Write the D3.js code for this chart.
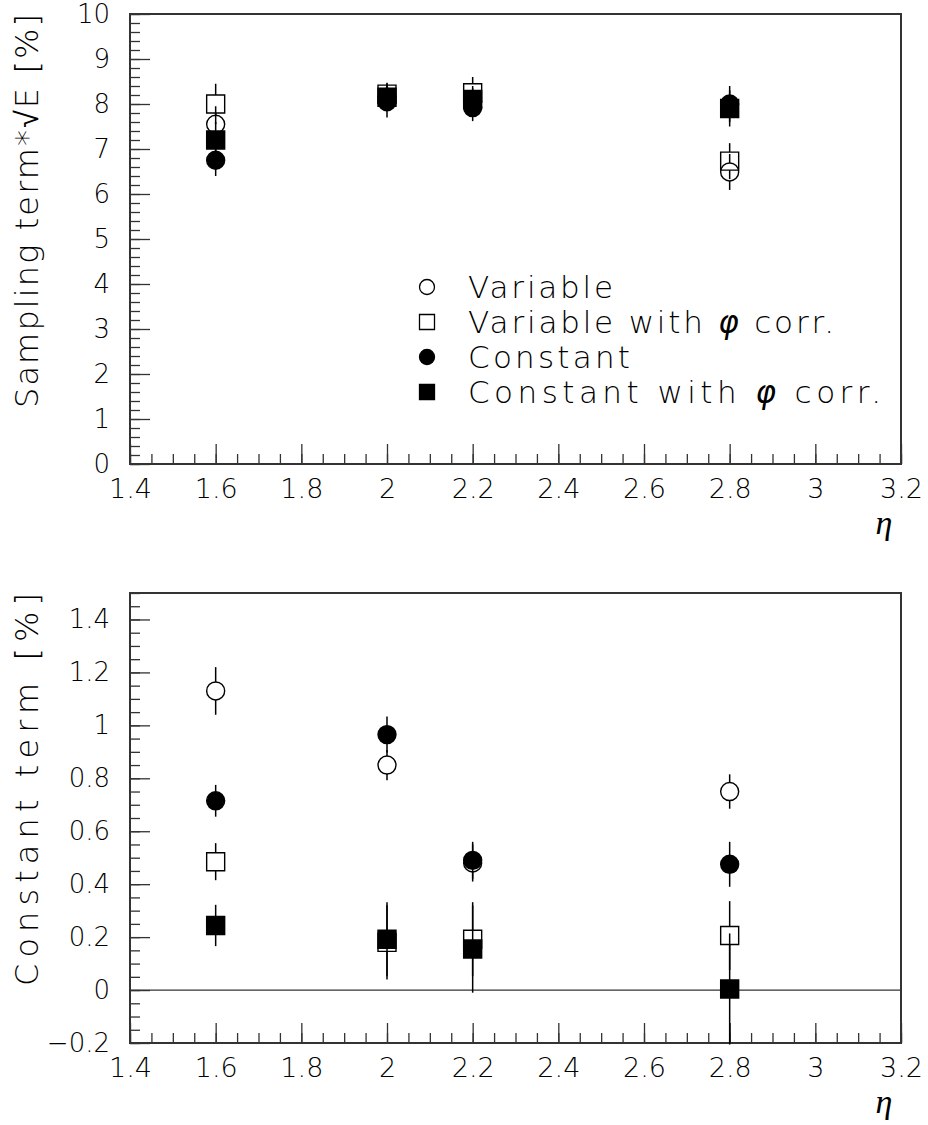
<!DOCTYPE html>
<html>
<head>
<meta charset="utf-8">
<script src="https://cdn.jsdelivr.net/npm/d3@7"></script>
<style>
  body { margin: 0; background: #fff; }
  text { font-family: "DejaVu Sans", sans-serif; font-weight: 200; fill: #000; }
</style>
</head>
<body>
<div id="chart"></div>
<script>
// eta bins
const etaValues = [1.6, 2.0, 2.2, 2.8];

// Sampling term * sqrt(E) [%]
const samplingVariable = [7.55, 8.15, 8.05, 6.49];
const samplingVariableErr = [0.40, 0.30, 0.30, 0.40];
const samplingVariablePhi = [8.00, 8.22, 8.25, 6.73];
const samplingVariablePhiErr = [0.45, 0.25, 0.35, 0.40];
const samplingConstant = [6.75, 8.05, 7.92, 8.00];
const samplingConstantErr = [0.35, 0.35, 0.30, 0.40];
const samplingConstantPhi = [7.20, 8.15, 8.10, 7.90];
const samplingConstantPhiErr = [0.40, 0.30, 0.30, 0.40];

// Constant term [%]
const constVariable = [1.13, 0.85, 0.48, 0.75];
const constVariableErr = [0.09, 0.057, 0.07, 0.065];
const constVariablePhi = [0.485, 0.18, 0.192, 0.206];
const constVariablePhiErr = [0.07, 0.14, 0.14, 0.13];
const constConstant = [0.715, 0.965, 0.49, 0.475];
const constConstantErr = [0.06, 0.068, 0.07, 0.085];
const constConstantPhi = [0.244, 0.192, 0.155, 0.004];
const constConstantPhiErr = [0.078, 0.14, 0.165, 0.21];

// axes
const xTicks = [1.4, 1.6, 1.8, 2.0, 2.2, 2.4, 2.6, 2.8, 3.0, 3.2];
const topYTicks = [0, 1, 2, 3, 4, 5, 6, 7, 8, 9, 10];
const bottomYTicks = [-0.2, 0, 0.2, 0.4, 0.6, 0.8, 1.0, 1.2, 1.4];

const seriesNames = ["Variable", "Variable with φ corr.", "Constant", "Constant with φ corr."];
const seriesSymbols = ["circle", "square", "circle", "square"];
const seriesFilled = [false, false, true, true];

const W = 928, H = 1125;
const left = 130, right = 901;

const svg = d3.select('#chart')
    .append('svg')
    .attr('width', W)
    .attr('height', H);

const x = d3.scaleLinear().domain([1.4, 3.2]).range([left, right]);

function fmt(d) {
    if (Math.abs(d) < 1e-9) return '0';
    return d3.format('~g')(+d.toFixed(2)).replace('-', '−');
}

function minorTicks(lo, hi, step) {
    const out = [];
    const n = Math.round((hi - lo) / step);
    for (let i = 0; i <= n; i++) out.push(lo + i * step);
    return out;
}

function drawPanel(cfg) {
    const y = d3.scaleLinear().domain(cfg.yDomain).range([cfg.bottom, cfg.top]);
    const g = svg.append('g');

    // minor x ticks
    g.append('g')
        .attr('transform', `translate(0,${cfg.bottom})`)
        .call(d3.axisBottom(x).tickValues(minorTicks(1.4, 3.2, 0.05)).tickSize(-10).tickFormat(''))
        .call(a => a.select('.domain').remove())
        .call(a => a.selectAll('line').attr('stroke', '#333').attr('stroke-width', 1.3));

    // major x ticks
    g.append('g')
        .attr('transform', `translate(0,${cfg.bottom})`)
        .call(d3.axisBottom(x).tickValues(xTicks).tickSize(-20).tickPadding(15).tickFormat(fmt))
        .call(a => a.select('.domain').remove())
        .call(a => a.selectAll('line').attr('stroke', '#333').attr('stroke-width', 1.3))
        .call(a => a.selectAll('text')
            .style('font-size', '27px')
            .style('font-family', '"DejaVu Sans", sans-serif')
            .style('font-weight', 200)
            .attr('fill', '#000'));

    // minor y ticks
    g.append('g')
        .attr('transform', `translate(${left},0)`)
        .call(d3.axisLeft(y).tickValues(minorTicks(cfg.yDomain[0], cfg.yDomain[1], cfg.yMinor)).tickSize(-10).tickFormat(''))
        .call(a => a.select('.domain').remove())
        .call(a => a.selectAll('line').attr('stroke', '#333').attr('stroke-width', 1.3));

    // major y ticks
    g.append('g')
        .attr('transform', `translate(${left},0)`)
        .call(d3.axisLeft(y).tickValues(cfg.yTicks).tickSize(-20).tickPadding(20).tickFormat(fmt))
        .call(a => a.select('.domain').remove())
        .call(a => a.selectAll('line').attr('stroke', '#333').attr('stroke-width', 1.3))
        .call(a => a.selectAll('text')
            .style('font-size', '26px')
            .style('font-family', '"DejaVu Sans", sans-serif')
            .style('font-weight', 200)
            .attr('fill', '#000'));

    // frame
    g.append('rect')
        .attr('x', left).attr('y', cfg.top)
        .attr('width', right - left).attr('height', cfg.bottom - cfg.top)
        .attr('fill', 'none').attr('stroke', '#333').attr('stroke-width', 2);

    // zero line
    if (cfg.zeroLine) {
        g.append('line')
            .attr('x1', left).attr('x2', right)
            .attr('y1', y(0)).attr('y2', y(0))
            .attr('stroke', '#333').attr('stroke-width', 1.3);
    }

    // series: error bars stop at marker edges, like ROOT
    const r = 9;
    cfg.series.forEach((s, si) => {
        const pts = etaValues.map((e, i) => ({ x: x(e), y: y(s.v[i]), hi: y(s.v[i] + s.e[i]), lo: y(s.v[i] - s.e[i]) }));
        const sg = g.append('g');
        pts.forEach(p => {
            if (p.hi < p.y - r) {
                sg.append('line').attr('x1', p.x).attr('x2', p.x).attr('y1', p.hi).attr('y2', p.y - r)
                    .attr('stroke', '#000').attr('stroke-width', 1.5);
            }
            if (p.lo > p.y + r) {
                sg.append('line').attr('x1', p.x).attr('x2', p.x).attr('y1', p.y + r).attr('y2', p.lo)
                    .attr('stroke', '#000').attr('stroke-width', 1.5);
            }
        });
        const sym = d3.symbol()
            .type(seriesSymbols[si] === 'circle' ? d3.symbolCircle : d3.symbolSquare)
            .size(seriesSymbols[si] === 'circle' ? Math.PI * r * r : (2 * r) * (2 * r));
        sg.selectAll('path.m')
            .data(pts)
            .join('path')
            .attr('class', 'm')
            .attr('d', sym)
            .attr('transform', p => `translate(${p.x},${p.y})`)
            .attr('fill', seriesFilled[si] ? '#000' : 'none')
            .attr('stroke', '#000')
            .attr('stroke-width', 1.4);
    });

    // y title
    svg.append('text')
        .attr('transform', `translate(38,${cfg.top}) rotate(-90)`)
        .attr('text-anchor', 'end')
        .attr('textLength', cfg.titleLength)
        .attr('lengthAdjust', 'spacing')
        .style('font-size', '32px')
        .text(cfg.title);

    // eta label
    svg.append('text')
        .attr('x', 884).attr('y', cfg.bottom + 70)
        .attr('text-anchor', 'middle')
        .style('font-family', '"Liberation Serif", serif')
        .style('font-style', 'italic')
        .style('font-weight', 400)
        .style('font-size', '34px')
        .text('η');

    return y;
}

drawPanel({
    top: 14, bottom: 464, yDomain: [0, 10], yTicks: topYTicks, yMinor: 0.2,
    title: 'Sampling term*√E [%]', titleLength: 394,
    series: [
        { v: samplingVariable, e: samplingVariableErr },
        { v: samplingVariablePhi, e: samplingVariablePhiErr },
        { v: samplingConstant, e: samplingConstantErr },
        { v: samplingConstantPhi, e: samplingConstantPhiErr }
    ]
});

drawPanel({
    top: 593, bottom: 1043, yDomain: [-0.2, 1.5], yTicks: bottomYTicks, yMinor: 0.05,
    title: 'Constant term [%]', titleLength: 393, zeroLine: true,
    series: [
        { v: constVariable, e: constVariableErr },
        { v: constVariablePhi, e: constVariablePhiErr },
        { v: constConstant, e: constConstantErr },
        { v: constConstantPhi, e: constConstantPhiErr }
    ]
});

// legend (top panel)
const legendWidths = [145, 366, 162, 413];
const legend = svg.append('g');
seriesNames.forEach((name, i) => {
    const cy = 287 + i * 35;
    const sym = d3.symbol()
        .type(seriesSymbols[i] === 'circle' ? d3.symbolCircle : d3.symbolSquare)
        .size(seriesSymbols[i] === 'circle' ? Math.PI * 7.5 * 7.5 : 15 * 15);
    legend.append('path')
        .attr('d', sym)
        .attr('transform', `translate(427,${cy})`)
        .attr('fill', seriesFilled[i] ? '#000' : 'none')
        .attr('stroke', '#000')
        .attr('stroke-width', 1.3);
    const t = legend.append('text')
        .attr('x', 468).attr('y', cy + 11)
        .attr('textLength', legendWidths[i])
        .attr('lengthAdjust', 'spacing')
        .style('font-size', '31px');
    const parts = name.split('φ');
    t.append('tspan').text(parts[0]);
    if (parts.length > 1) {
        t.append('tspan')
            .style('font-family', '"DejaVu Sans", sans-serif')
            .style('font-style', 'italic')
            .style('font-weight', 200)
            .text('φ');
        t.append('tspan').text(parts[1]);
    }
});
</script>
</body>
</html>
